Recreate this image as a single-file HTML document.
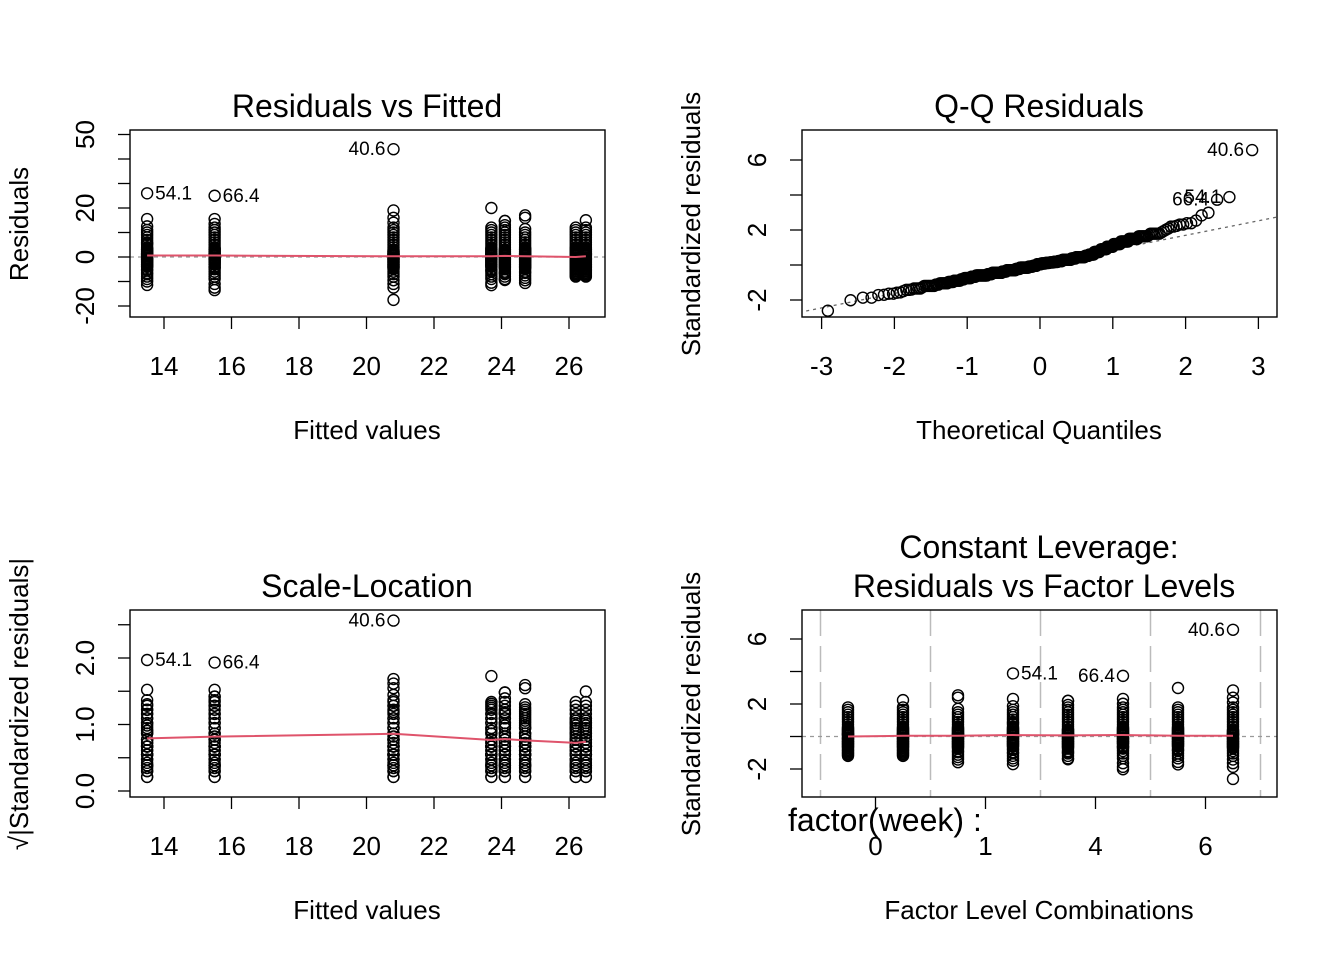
<!DOCTYPE html>
<html><head><meta charset="utf-8"><style>
html,body{margin:0;padding:0;background:#fff;}
svg{display:block;font-family:"Liberation Sans",Arial,sans-serif;}
</style></head><body>
<svg id="chart" width="1344" height="960" viewBox="0 0 1344 960"></svg>
<script>
// ---- data ----
const levelNames = ['0','1','4','6'];
const groupFitted = [26.2, 26.5, 24.7, 13.5, 24.1, 15.5, 23.7, 20.8];
const groupResiduals = [
 [-8,-7.5,-7,-6.5,-6,-5.5,-5,-4.5,-4,-4,-3.5,-3,-3,-2.5,-2,-2,-1.5,-1,-1,-0.6,-0.3,0.3,0.6,0.8,1,1.2,1.5,2,2,2.5,3,3,3.5,4,5,6,7,8,9,10,11,12],
 [-8,-7.5,-7,-6.5,-6,-5.5,-5,-4.5,-4,-4,-3.5,-3,-3,-2.5,-2,-2,-1.5,-1,-1,-0.6,-0.3,0.3,0.6,0.8,1,1.2,1.5,2,2,2.5,3,3,3.5,4,5,6,7,8,9,10,11,12,15],
 [-10.6,-9.5,-8.5,-7.5,-6.5,-6,-5,-4.5,-4,-4,-3.5,-3,-3,-2.5,-2,-2,-1.5,-1,-1,-0.6,-0.3,0.3,0.6,0.8,1,1.2,1.5,2,2,2.5,3,3,3.5,4,5,6,7,8,9,10,11.4,16,17],
 [-11.4,-10,-9,-8,-7,-6.5,-5.5,-5,-4,-4,-3.5,-3,-3,-2.5,-2,-2,-1.5,-1,-1,-0.6,-0.3,0.3,0.6,0.8,1,1.2,1.5,2,2,2.5,3,3,3.5,4,5,5.5,6,7,8,9,10,11,12.5,15.5,26],
 [-9.4,-9,-8,-7,-6.5,-6,-5,-4.5,-4,-4,-3.5,-3,-3,-2.5,-2,-2,-1.5,-1,-1,-0.6,-0.3,0.3,0.6,0.8,1,1.2,1.5,2,2,2.5,3,3,4,5,6,7,8,9,10,11,12,13,14.7,14.7],
 [-13.5,-12.5,-11,-9,-8,-7,-6,-5,-4.5,-4,-4,-3,-3,-2.5,-2,-2,-1.5,-1,-1,-0.6,-0.3,0.3,0.6,0.8,1,1.2,1.5,2,2,2.5,3,3,3.5,4,5,6,7,8,9,10,11,12,13.5,15.5,25],
 [-11.5,-10.5,-9,-8,-7,-6,-5.5,-5,-4,-4,-3.5,-3,-3,-2.5,-2,-2,-1.5,-1,-1,-0.6,-0.3,0.3,0.6,0.8,1,1.2,1.5,2,2,2.5,3,3,3.5,4,5,6,7,8,9,10,11,12,20],
 [-17.5,-12.5,-11,-9.5,-8,-7,-6,-5,-4.5,-4,-4,-3.5,-3,-3,-2.5,-2,-2,-1.5,-1,-1,-0.6,-0.3,0.3,0.6,0.8,1,1.2,1.5,2,2,2.5,3,4,5,6,7,8,9,10,11,12,14,16,19,44]
];
const outlierLabels = ['40.6','54.1','66.4'];
const sigma = 6.7;
const p1XTicks = [14,16,18,20,22,24,26];
const p1YTicks = [-20,-10,0,10,20,30,40,50];
const p1YLabels = [-20,0,20,50];
const p2XTicks = [-3,-2,-1,0,1,2,3];
const p2YTicks = [-2,0,2,4,6];
const p2YLabels = [-2,2,6];
const p3YTicks = [0,0.5,1,1.5,2,2.5];
const p3YLabels = ['0.0','1.0','2.0'];
const p4YTicks = [-2,0,2,4,6];
const p4YLabels = [-2,2,6];
const p4XTickPos = [0.5,2.5,4.5,6.5];

// ---- helpers ----
const svg = document.getElementById('chart');
const NS = 'http://www.w3.org/2000/svg';
const TICKF = 26, AXF = 26, TITF = 32, OUTF = 19;
function mk(tag, attrs, parent){const e=document.createElementNS(NS,tag);for(const k in attrs)e.setAttribute(k,attrs[k]);(parent||svg).appendChild(e);return e;}
function txt(s,x,y,size,anchor,rot){const t=mk('text',{x:x,y:y,'font-size':size,'text-anchor':anchor||'middle',fill:'#000'});if(rot)t.setAttribute('transform','rotate(-90 '+x+' '+y+')');t.textContent=s;return t;}
function qnorm(p){const a=[-39.69683028665376,220.9460984245205,-275.9285104469687,138.3577518672690,-30.66479806614716,2.506628277459239],b=[-54.47609879822406,161.5858368580409,-155.6989798598866,66.80131188771688,-13.28068155288572],c=[-0.007784894002430293,-0.3223964580411365,-2.400758277161838,-2.549732539343734,4.374664141464968,2.938163982698783],d=[0.007784695709041462,0.3224671290700398,2.445134137142996,3.754408661907416];const pl=0.02425;let q,r;if(p<pl){q=Math.sqrt(-2*Math.log(p));return(((((c[0]*q+c[1])*q+c[2])*q+c[3])*q+c[4])*q+c[5])/((((d[0]*q+d[1])*q+d[2])*q+d[3])*q+1);}if(p>1-pl){q=Math.sqrt(-2*Math.log(1-p));return-(((((c[0]*q+c[1])*q+c[2])*q+c[3])*q+c[4])*q+c[5])/((((d[0]*q+d[1])*q+d[2])*q+d[3])*q+1);}q=p-0.5;r=q*q;return(((((a[0]*r+a[1])*r+a[2])*r+a[3])*r+a[4])*r+a[5])*q/(((((b[0]*r+b[1])*r+b[2])*r+b[3])*r+b[4])*r+1);}
function circ(x,y,g){const c=mk('circle',{cx:x,cy:y,r:5.5,fill:'none',stroke:'#000','stroke-width':1.4},g);}
function box(x0,y0,x1,y1,name){const r=mk('rect',{x:x0,y:y0,width:x1-x0,height:y1-y0,fill:'none',stroke:'#000','stroke-width':1.4});}
function xTicks(vals,labels,sx,yb){vals.forEach((v,i)=>{mk('line',{x1:sx(v),x2:sx(v),y1:yb,y2:yb+12,stroke:'#000','stroke-width':1.3});if(labels&&labels[i]!=null){const t=txt(String(labels[i]),sx(v),yb+58,TICKF);}});}
function yTicks(vals,labels,labelVals,sy,xl){vals.forEach(v=>mk('line',{x1:xl-12,x2:xl,y1:sy(v),y2:sy(v),stroke:'#000','stroke-width':1.3}));labelVals.forEach((v,i)=>{const t=txt(String(labels[i]),xl-36,sy(v),TICKF,'middle',true);});}

const obs=[];
groupResiduals.forEach((arr,g)=>arr.forEach(r=>obs.push({g:g,f:groupFitted[g],r:r,s:r/sigma})));
const byAbs=obs.slice().sort((a,b)=>Math.abs(b.r)-Math.abs(a.r));
byAbs.slice(0,outlierLabels.length).forEach((o,i)=>o.label=outlierLabels[i]);
const order=groupFitted.map((f,i)=>i).sort((a,b)=>groupFitted[a]-groupFitted[b]);
const mean=a=>a.reduce((s,v)=>s+v,0)/a.length;
const median=a=>{const s=a.slice().sort((x,y)=>x-y);const m=s.length>>1;return s.length%2?s[m]:(s[m-1]+s[m])/2;};

// ---- panel 1 ----
(function(){
 const sx=v=>164+(v-14)*33.75, sy=v=>257-v*2.45;
 const g=mk('g',{});
 mk('line',{x1:130,x2:605,y1:sy(0),y2:sy(0),stroke:'#999','stroke-width':1.3,'stroke-dasharray':'4,4'},g);
 obs.forEach(o=>circ(sx(o.f),sy(o.r),g));
 const pts=order.map(i=>sx(groupFitted[i])+','+sy(median(groupResiduals[i]))).join(' ');
 const pl=mk('polyline',{points:pts,fill:'none',stroke:'#DF536B','stroke-width':2},g);
 obs.filter(o=>o.label).forEach(o=>{const left=sx(o.f)>367;const t=txt(o.label,sx(o.f)+(left?-8:8),sy(o.r)+6,OUTF,left?'end':'start');});
 box(130,130,605,317,'plot-frame');
 xTicks(p1XTicks,p1XTicks,sx,317);
 yTicks(p1YTicks,p1YLabels,p1YLabels,sy,130);
 let t=txt('Residuals vs Fitted',367,117,TITF);
 t=txt('Fitted values',367,439,AXF);
 t=txt('Residuals',28,224,AXF,'middle',true);
})();

// ---- panel 2 ----
(function(){
 const sx=v=>1040+v*72.8, sy=v=>265-v*17.5;
 const g=mk('g',{});
 const sorted=obs.slice().sort((a,b)=>a.s-b.s);const n=sorted.length;
 sorted.forEach((o,i)=>o.q=qnorm((i+1-0.375)/(n+0.25)));
 const q1=sorted[Math.floor(n*0.25)].s,q3=sorted[Math.floor(n*0.75)].s;
 const slope=(q3-q1)/(2*0.6745),inter=(q1+q3)/2;
 mk('clipPath',{id:'c2'}).appendChild(mk('rect',{x:802,y:130,width:475,height:187}));
 g.setAttribute('clip-path','url(#c2)');
 mk('line',{x1:sx(-3.4),y1:sy(inter-3.4*slope),x2:sx(3.3),y2:sy(inter+3.3*slope),stroke:'#666','stroke-width':1.3,'stroke-dasharray':'3,4'},g);
 sorted.forEach(o=>circ(sx(o.q),sy(o.s),g));
 sorted.filter(o=>o.label).forEach(o=>{const t=txt(o.label,sx(o.q)-8,sy(o.s)+6,OUTF,'end');});
 box(802,130,1277,317,'plot-frame');
 xTicks(p2XTicks,p2XTicks,sx,317);
 yTicks(p2YTicks,p2YLabels,p2YLabels,sy,802);
 let t=txt('Q-Q Residuals',1039,117,TITF);
 t=txt('Theoretical Quantiles',1039,439,AXF);
 t=txt('Standardized residuals',700,224,AXF,'middle',true);
})();

// ---- panel 3 ----
(function(){
 const sx=v=>164+(v-14)*33.75, sy=v=>791-v*66.5;
 const g=mk('g',{});
 obs.forEach(o=>circ(sx(o.f),sy(Math.sqrt(Math.abs(o.s))),g));
 const pts=order.map(i=>sx(groupFitted[i])+','+sy(mean(groupResiduals[i].map(r=>Math.sqrt(Math.abs(r/sigma)))))).join(' ');
 const pl=mk('polyline',{points:pts,fill:'none',stroke:'#DF536B','stroke-width':2},g);
 obs.filter(o=>o.label).forEach(o=>{const y=sy(Math.sqrt(Math.abs(o.s)));const left=sx(o.f)>367;const t=txt(o.label,sx(o.f)+(left?-8:8),y+6,OUTF,left?'end':'start');});
 box(130,610,605,797,'plot-frame');
 xTicks(p1XTicks,p1XTicks,sx,797);
 yTicks(p3YTicks,p3YLabels,[0,1,2],sy,130);
 let t=txt('Scale-Location',367,597,TITF);
 t=txt('Fitted values',367,919,AXF);
 t=txt('√|Standardized residuals|',28,704,AXF,'middle',true);
})();

// ---- panel 4 ----
(function(){
 const sx=i=>848+i*55, sy=v=>736.5-v*16.25;
 const g=mk('g',{});
 [-0.5,1.5,3.5,5.5,7.5].forEach(p=>mk('line',{x1:sx(p),x2:sx(p),y1:610,y2:797,stroke:'#bbb','stroke-width':1.5,'stroke-dasharray':'26,10'},g));
 mk('line',{x1:802,x2:1277,y1:sy(0),y2:sy(0),stroke:'#999','stroke-width':1.3,'stroke-dasharray':'4,4'},g);
 obs.forEach(o=>circ(sx(o.g),sy(o.s),g));
 const pts=groupResiduals.map((a,i)=>sx(i)+','+sy(median(a)/sigma)).join(' ');
 const pl=mk('polyline',{points:pts,fill:'none',stroke:'#DF536B','stroke-width':2},g);
 obs.filter(o=>o.label).forEach(o=>{const left=sx(o.g)>1040;const t=txt(o.label,sx(o.g)+(left?-8:8),sy(o.s)+6,OUTF,left?'end':'start');});
 box(802,610,1277,797,'plot-frame');
 xTicks(p4XTickPos,levelNames,sx,797);
 yTicks(p4YTicks,p4YLabels,p4YLabels,sy,802);
 let t=txt('factor(week) :',788,831,TITF,'start');
 t=txt('Constant Leverage:',1039,558,TITF);
 t=txt('Residuals vs Factor Levels',1044,597,TITF);
 t=txt('Factor Level Combinations',1039,919,AXF);
 t=txt('Standardized residuals',700,704,AXF,'middle',true);
})();
</script>
</body></html>
